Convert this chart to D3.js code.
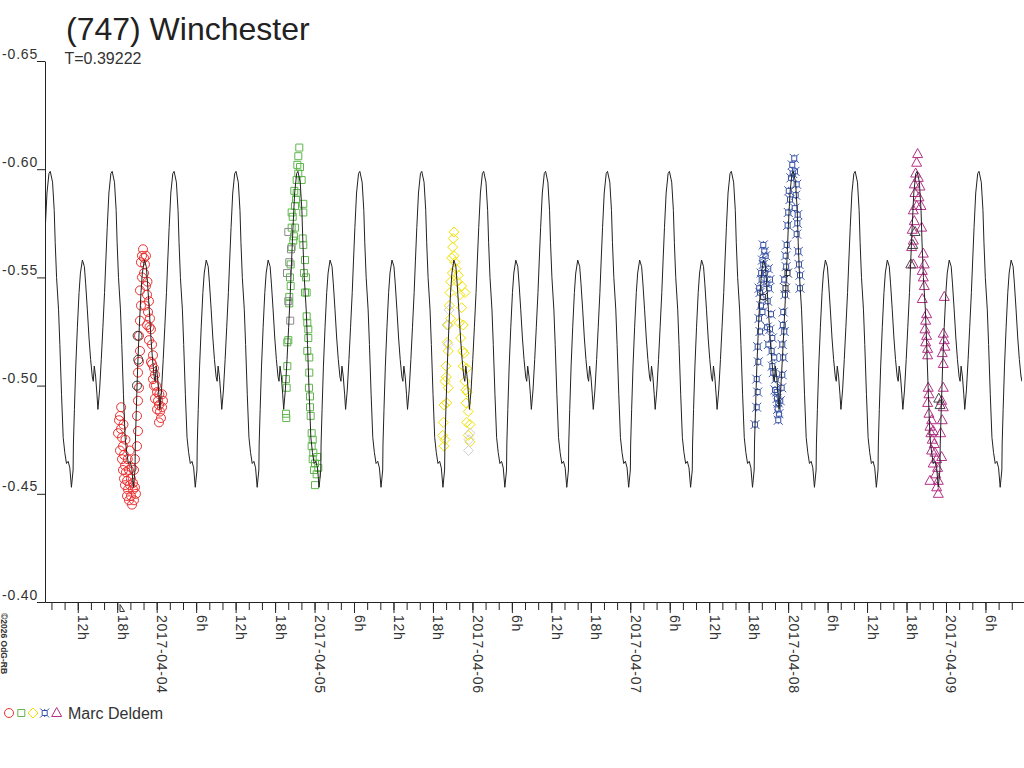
<!DOCTYPE html>
<html>
<head>
<meta charset="utf-8">
<script src="https://cdnjs.cloudflare.com/ajax/libs/d3/7.8.5/d3.min.js"></script>
<style>
  body { margin: 0; background: #fff; }
  svg { display: block; font-family: "Liberation Sans", Arial, sans-serif; }
</style>
</head>
<body>
<div id="chart"></div>
<script>
// ---- data -------------------------------------------------------------
// rotation period in days (shown as T) and epoch of the model maximum,
// in hours after 2017-04-03 0h UT
const period = 0.39222;
const epochHours = 7.82;
const observer = "Marc Deldem";

// one rotation of the model light curve
const modelPhase = [0, 0.037, 0.064, 0.080, 0.102, 0.134, 0.155, 0.182, 0.209, 0.235,
  0.262, 0.289, 0.316, 0.342, 0.369, 0.374, 0.390, 0.412, 0.438, 0.465, 0.487, 0.519,
  0.551, 0.572, 0.599, 0.626, 0.652, 0.679, 0.695, 0.711, 0.733, 0.754, 0.770, 0.797,
  0.824, 0.850, 0.877, 0.898, 0.920, 0.947, 0.979];
const modelMag = [-0.599, -0.594, -0.581, -0.566, -0.550, -0.535, -0.519, -0.496, -0.476, -0.469,
  -0.464, -0.465, -0.462, -0.453, -0.461, -0.473, -0.489, -0.509, -0.527, -0.543, -0.552, -0.558,
  -0.555, -0.547, -0.535, -0.522, -0.512, -0.504, -0.502, -0.509, -0.504, -0.496, -0.489, -0.498,
  -0.512, -0.527, -0.543, -0.558, -0.573, -0.589, -0.598];

// observations: [hours after 2017-04-03 0h UT, magnitude]
const redPoints = [[18.12,-0.478],[18.27,-0.484],[18.42,-0.486],[18.57,-0.480],[18.73,-0.476],[18.42,-0.470],[18.88,-0.472],
  [18.73,-0.466],[19.03,-0.468],[18.88,-0.461],[19.18,-0.463],[19.03,-0.457],[19.33,-0.460],
  [19.18,-0.454],[19.49,-0.456],[19.64,-0.452],[19.49,-0.449],[19.79,-0.461],[19.94,-0.454],
  [20.09,-0.457],[19.79,-0.447],[20.09,-0.449],[20.25,-0.445],[20.40,-0.452],[20.55,-0.447],
  [20.40,-0.455],[20.70,-0.453],[20.55,-0.461],[20.85,-0.450],[20.70,-0.466],[21.01,-0.472],
  [18.60,-0.490],[18.95,-0.482],[19.25,-0.475],[19.60,-0.466],[19.90,-0.470],[20.20,-0.462],
  [21.16,-0.479],[21.01,-0.486],[21.16,-0.493],[21.31,-0.499],[21.16,-0.506],[21.31,-0.511],
  [21.46,-0.516],[21.31,-0.523],[21.46,-0.530],[21.61,-0.537],[21.46,-0.544],[21.77,-0.550],
  [21.61,-0.557],[21.77,-0.560],[21.92,-0.563],[22.07,-0.559],[22.22,-0.556],[22.37,-0.560],
  [22.07,-0.552],[22.37,-0.546],[22.53,-0.542],[22.22,-0.537],[22.68,-0.534],[22.53,-0.528],
  [22.83,-0.539],[22.98,-0.531],[23.13,-0.526],[22.83,-0.521],[23.29,-0.519],[23.44,-0.514],
  [23.13,-0.511],[23.59,-0.508],[23.74,-0.505],[23.44,-0.503],[23.89,-0.500],[24.05,-0.497],
  [23.74,-0.494],[24.20,-0.493],[24.35,-0.491],[24.05,-0.489],[24.50,-0.488],[24.65,-0.485],
  [24.35,-0.483],[24.81,-0.490],[24.96,-0.493],[24.81,-0.496],[22.60,-0.548],[22.90,-0.527],
  [23.30,-0.510],[23.60,-0.500],[24.40,-0.496]];
const greenPoints = [[43.66,-0.487],[43.70,-0.485],[43.76,-0.499],[43.66,-0.503],[43.86,-0.509],
  [44.01,-0.521],[43.86,-0.520],[44.16,-0.538],[44.16,-0.541],[44.37,-0.546],[44.27,-0.550],
  [44.37,-0.556],[44.52,-0.564],[44.77,-0.567],[44.87,-0.569],[44.52,-0.573],[45.03,-0.573],
  [44.68,-0.578],[44.52,-0.580],[45.03,-0.583],[45.18,-0.586],[45.28,-0.589],[44.92,-0.590],
  [45.28,-0.595],[45.53,-0.598],[45.79,-0.601],[45.38,-0.602],[45.53,-0.606],[45.68,-0.610],
  [46.04,-0.595],[46.29,-0.584],[46.29,-0.580],[46.20,-0.568],[46.29,-0.565],[46.55,-0.558],
  [46.39,-0.552],[46.70,-0.550],[46.80,-0.543],[46.55,-0.543],[46.80,-0.532],[46.90,-0.529],
  [47.05,-0.526],[47.05,-0.522],[46.90,-0.516],[47.20,-0.513],[47.20,-0.506],[47.15,-0.499],
  [47.31,-0.495],[47.31,-0.490],[47.41,-0.486],[47.56,-0.478],[47.72,-0.475],[47.56,-0.472],
  [47.81,-0.469],[47.72,-0.466],[48.07,-0.464],[47.91,-0.461],[48.32,-0.459],[48.07,-0.454],
  [48.42,-0.467],[48.57,-0.462]];
const yellowPoints = [[69.20,-0.571],[69.09,-0.568],[69.00,-0.564],[69.20,-0.560],[68.85,-0.559],
  [69.35,-0.557],[68.70,-0.548],[68.59,-0.543],[68.48,-0.537],[68.70,-0.531],[68.33,-0.528],
  [68.18,-0.520],[68.33,-0.516],[67.98,-0.509],[68.03,-0.504],[67.83,-0.502],[68.33,-0.499],
  [67.68,-0.491],[68.09,-0.492],[67.57,-0.483],[67.48,-0.477],[67.83,-0.475],[67.68,-0.472],
  [69.85,-0.551],[70.37,-0.546],[70.87,-0.543],[70.11,-0.542],[70.37,-0.536],[70.00,-0.529],
  [70.61,-0.528],[70.22,-0.522],[70.52,-0.516],[70.61,-0.509],[71.13,-0.508],[70.87,-0.502],
  [71.22,-0.497],[71.02,-0.492],[71.37,-0.488],[71.13,-0.483],[71.63,-0.482],[71.37,-0.477],
  [71.63,-0.474],[69.50,-0.554],[69.70,-0.548],[68.95,-0.552],[70.75,-0.515],[71.00,-0.498]];
const bluePoints = [[114.96,-0.482],[115.22,-0.490],[115.37,-0.497],[115.22,-0.503],[115.46,-0.511],
  [115.37,-0.518],[115.72,-0.525],[115.57,-0.531],[115.87,-0.537],[115.72,-0.543],[115.98,-0.549],
  [116.22,-0.556],[116.37,-0.562],[116.22,-0.565],[116.58,-0.560],[116.98,-0.554],[117.24,-0.549],
  [117.09,-0.545],[116.89,-0.539],[117.39,-0.533],[117.24,-0.526],[117.59,-0.522],[117.50,-0.516],
  [117.89,-0.513],[117.74,-0.506],[118.11,-0.503],[118.26,-0.497],[118.50,-0.492],[118.41,-0.489],
  [118.50,-0.484],[115.60,-0.545],[115.90,-0.552],[116.10,-0.558],[116.50,-0.552],[116.70,-0.547],
  [116.10,-0.534],[116.80,-0.527],[117.00,-0.519],[117.60,-0.509],[118.00,-0.498],[118.30,-0.494],
  [118.60,-0.487],[118.80,-0.493],[119.02,-0.499],[119.11,-0.505],[119.26,-0.513],[119.11,-0.519],
  [119.41,-0.525],[119.26,-0.534],[119.52,-0.542],[119.41,-0.549],[119.63,-0.560],[119.78,-0.565],
  [119.93,-0.574],[120.02,-0.580],[120.28,-0.586],[120.43,-0.596],[120.63,-0.602],[120.93,-0.605],
  [121.04,-0.599],[121.30,-0.593],[121.15,-0.588],[121.45,-0.579],[121.30,-0.570],[121.54,-0.562],
  [121.65,-0.556],[121.80,-0.551],[121.80,-0.545],[119.20,-0.528],[119.70,-0.555],[120.10,-0.590],
  [120.70,-0.598],[121.00,-0.582],[121.40,-0.575]];
const magentaPoints = [[139.69,-0.607],[139.54,-0.603],[139.39,-0.598],[139.79,-0.596],[139.18,-0.593],
  [140.05,-0.592],[139.28,-0.589],[139.89,-0.587],[140.20,-0.583],[139.03,-0.581],[139.54,-0.583],
  [139.18,-0.576],[140.30,-0.573],[138.87,-0.572],[139.03,-0.567],[138.78,-0.564],[139.03,-0.556],
  [140.55,-0.561],[140.70,-0.556],[140.39,-0.553],[140.55,-0.550],[140.70,-0.546],[140.39,-0.540],
  [141.06,-0.533],[140.91,-0.530],[140.80,-0.526],[141.06,-0.523],[140.91,-0.520],[141.21,-0.517],
  [141.21,-0.514],[141.30,-0.499],[141.41,-0.496],[141.21,-0.492],[141.41,-0.487],[141.82,-0.484],
  [141.56,-0.481],[141.71,-0.478],[142.06,-0.479],[141.91,-0.475],[142.22,-0.473],[141.82,-0.470],
  [142.32,-0.469],[142.58,-0.466],[142.06,-0.464],[142.73,-0.462],[142.43,-0.459],[142.83,-0.456],
  [142.58,-0.453],[141.56,-0.456],[142.83,-0.450],[143.34,-0.467],[143.19,-0.478],[143.43,-0.484],
  [143.59,-0.490],[143.34,-0.493],[143.59,-0.499],[143.59,-0.510],[143.43,-0.515],[143.84,-0.518],
  [143.74,-0.521],[143.59,-0.524],[143.74,-0.541]];

// darker duplicates drawn by the original plot inside each session
const redShade = [[21.00,-0.500],[21.20,-0.512],[21.10,-0.523]];
const greenShade = [[44.01,-0.571],[44.42,-0.563],[44.16,-0.557],[43.81,-0.552],[44.01,-0.539],[44.30,-0.530]];
const yellowShade = [[68.14,-0.528],[68.29,-0.519],[68.45,-0.535],[71.48,-0.475],[71.63,-0.478],[71.40,-0.470]];
const blueShade = [[119.60,-0.545],[119.90,-0.552],[116.20,-0.541]];
const magentaShade = [[138.95,-0.565],[138.65,-0.556],[139.30,-0.571],[142.90,-0.494],[143.10,-0.491]];

// axis ticks and labels
const yTicks = [-0.65, -0.60, -0.55, -0.50, -0.45, -0.40];
const dateLabels = ["2017-04-04", "2017-04-05", "2017-04-06", "2017-04-07", "2017-04-08", "2017-04-09"];
const hourLabels = ["6h", "12h", "18h"];

// ---- layout -------------------------------------------------------------
const width = 1024, height = 768;
const plot = {left: 45, right: 1022, top: 61, bottom: 602};

const svg = d3.select("#chart").append("svg")
    .attr("width", width)
    .attr("height", height);

const x = d3.scaleLinear().domain([7.02, 155.86]).range([plot.left, 1024]);
const y = d3.scaleLinear().domain([-0.65, -0.40]).range([plot.top, plot.bottom]);

svg.append("clipPath").attr("id", "plot-clip")
  .append("rect")
    .attr("x", plot.left).attr("y", plot.top)
    .attr("width", plot.right - plot.left).attr("height", plot.bottom - plot.top);

// ---- marker shapes -------------------------------------------------------
const shapes = {
  circle: "M4.5,0A4.5,4.5 0 1,1 -4.5,0A4.5,4.5 0 1,1 4.5,0Z",
  square: "M-3.5,-3.5H3.5V3.5H-3.5Z",
  diamond: "M0,-5L5,0L0,5L-5,0Z",
  star: "M-2.5,-2.5H2.5V2.5H-2.5Z M-2.5,-2.5L-4.5,-4.5 M2.5,-2.5L4.5,-4.5 M2.5,2.5L4.5,4.5 M-2.5,2.5L-4.5,4.5 M0,-2.5V-4 M0,2.5V4",
  triangle: "M0,-5.5L5,3.5H-5Z"
};

const sessions = [
  {points: redPoints, shade: redShade, shape: "circle", color: "#ec3030", shadeColor: "#3a3a3a"},
  {points: greenPoints, shade: greenShade, shape: "square", color: "#5fb64c", shadeColor: "#8a8a8a"},
  {points: yellowPoints, shade: yellowShade, shape: "diamond", color: "#f2e200", shadeColor: "#cfcfcf"},
  {points: bluePoints, shade: blueShade, shape: "star", color: "#3853a6", shadeColor: "#262c48"},
  {points: magentaPoints, shade: magentaShade, shape: "triangle", color: "#b52f86", shadeColor: "#474747"}
];

const marks = svg.append("g").attr("clip-path", "url(#plot-clip)");

sessions.forEach(s => {
  marks.append("g")
    .selectAll("path")
    .data(s.points)
    .join("path")
      .attr("d", shapes[s.shape])
      .attr("transform", d => `translate(${x(d[0])},${y(d[1])})`)
      .attr("fill", "none")
      .attr("stroke", s.color)
      .attr("stroke-width", 1);

  marks.append("g")
    .selectAll("path")
    .data(s.shade)
    .join("path")
      .attr("d", shapes[s.shape])
      .attr("transform", d => `translate(${x(d[0])},${y(d[1])})`)
      .attr("fill", "none")
      .attr("stroke", s.shadeColor)
      .attr("stroke-width", 1);
});

// ---- model curve, repeated every rotation ---------------------------------
const periodHours = period * 24;
const modelPoints = [];
for (let k = -1; k <= 17; k++) {
  modelPhase.forEach((p, i) => {
    const t = epochHours + (k + p) * periodHours;
    if (t > 5 && t < 158) modelPoints.push([t, modelMag[i]]);
  });
}

const line = d3.line()
    .x(d => x(d[0]))
    .y(d => y(d[1]));

marks.append("path")
    .datum(modelPoints)
    .attr("fill", "none")
    .attr("stroke", "#222")
    .attr("stroke-width", 1)
    .attr("d", line);

// ---- axes -----------------------------------------------------------------
const tickFont = g => g
    .attr("font-family", null)
    .attr("font-size", null)
    .call(g => g.selectAll("line").attr("stroke", "#222"))
    .call(g => g.select(".domain").attr("stroke", "#222"));

// minor ticks every 2 hours
svg.append("g")
    .attr("transform", `translate(0,${plot.bottom})`)
    .call(d3.axisBottom(x).tickValues(d3.range(8, 156, 2)).tickSize(8).tickSizeOuter(0).tickFormat(""))
    .call(tickFont);

// major ticks every 6 hours with vertical labels
const hourText = t => t % 24 === 0 ? dateLabels[t / 24 - 1] : hourLabels[(t % 24) / 6 - 1];
svg.append("g")
    .attr("transform", `translate(0,${plot.bottom})`)
    .call(d3.axisBottom(x).tickValues(d3.range(12, 156, 6)).tickSize(11).tickSizeOuter(0).tickFormat(hourText))
    .call(tickFont)
    .call(g => g.selectAll("text")
        .attr("transform", "rotate(90)")
        .attr("x", 13)
        .attr("y", 0)
        .attr("dy", null)
        .attr("text-anchor", "start")
        .attr("fill", "#333")
        .style("font-size", "14px")
        .style("letter-spacing", "0.7px"));

svg.append("g")
    .attr("transform", `translate(${plot.left},0)`)
    .call(d3.axisLeft(y).tickValues(yTicks).tickSize(8).tickSizeOuter(0).tickFormat(d => d.toFixed(2)))
    .call(tickFont)
    .call(g => g.selectAll("text")
        .attr("x", -7)
        .attr("dy", -3)
        .attr("fill", "#333")
        .style("font-size", "14px")
        .style("letter-spacing", "0.8px"));

// small marker on the time axis at the start of the first session
const firstTime = d3.min(redPoints, d => d[0]);
svg.append("path")
    .attr("d", `M${x(firstTime) + 2},611.5V604.5L${x(firstTime) + 6.5},611.5Z`)
    .attr("fill", "none")
    .attr("stroke", "#333")
    .attr("stroke-width", 1);

// ---- titles ---------------------------------------------------------------
svg.append("text")
    .attr("x", 66)
    .attr("y", 39.5)
    .attr("fill", "#222")
    .style("font-size", "32px")
    .text("(747) Winchester");

svg.append("text")
    .attr("x", 64.5)
    .attr("y", 64)
    .attr("fill", "#333")
    .style("font-size", "16px")
    .text(`T=${period}`);

svg.append("text")
    .attr("transform", "translate(0.5,613) rotate(90)")
    .attr("fill", "#333")
    .style("font-size", "8.5px")
    .style("font-weight", "bold")
    .text("©2026 OdG-RB");

// ---- legend ---------------------------------------------------------------
const legendX = [9, 21.3, 33, 44.7, 56.7];
svg.append("g")
    .selectAll("path")
    .data(sessions)
    .join("path")
      .attr("d", d => shapes[d.shape])
      .attr("transform", (d, i) => `translate(${legendX[i]},${713})`)
      .attr("fill", "none")
      .attr("stroke", d => d.color)
      .attr("stroke-width", 1);

svg.append("text")
    .attr("x", 68)
    .attr("y", 718.5)
    .attr("fill", "#333")
    .style("font-size", "16px")
    .text(observer);
</script>
</body>
</html>
